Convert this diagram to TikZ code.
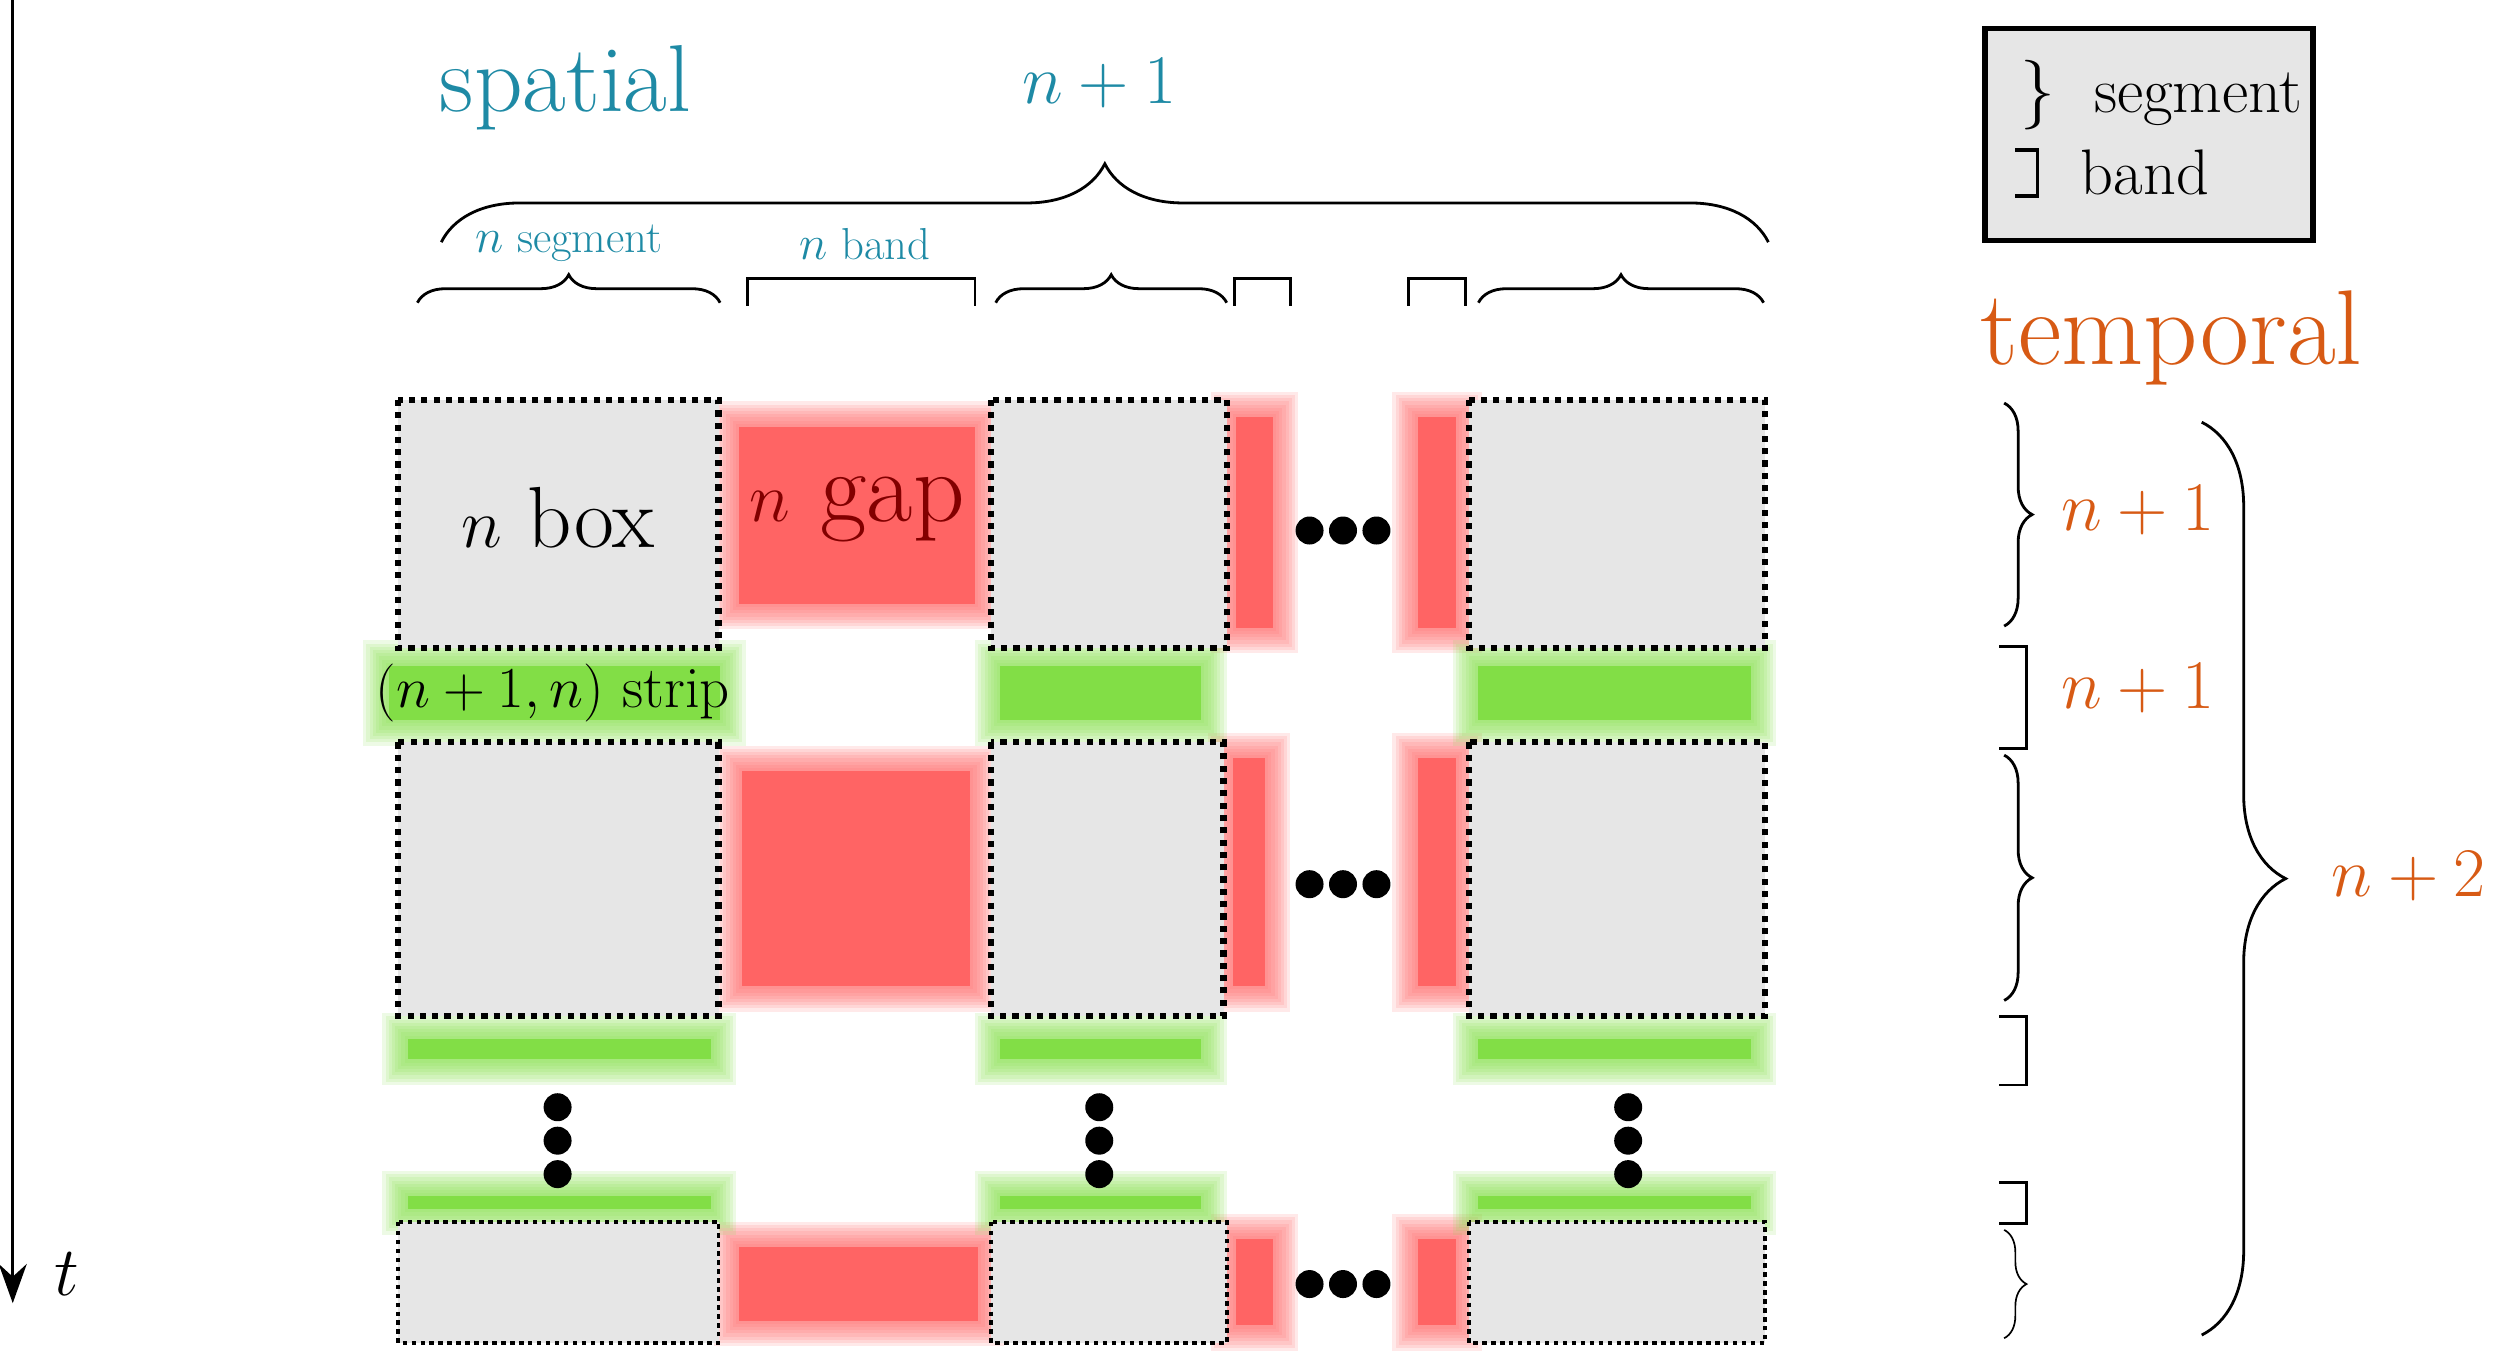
\documentclass[tikz,border=0pt]{standalone}
\usetikzlibrary{decorations.pathreplacing,arrows.meta}
\definecolor{teal1}{RGB}{30,138,165}
\definecolor{org}{RGB}{215,90,20}
\definecolor{redg}{RGB}{255,100,100}
\definecolor{grn}{RGB}{130,222,70}
\definecolor{boxg}{RGB}{230,230,230}
\definecolor{dred}{RGB}{130,0,0}
\newcommand{\fs}[1]{\fontsize{#1}{#1}\selectfont}
\newcommand{\blurr}[5]{%
 \foreach \d in {10,8,6,4,2,0,-2,-4}{\fill[#1,opacity=0.14] (#2-\d,#3-\d) rectangle (#4+\d,#5+\d);}
 \fill[#1] (#2+6,#3+6) rectangle (#4-6,#5-6);}
\tikzset{
 cell/.style={fill=boxg,draw=black,line width=2.2pt,dash pattern=on 2.2pt off 2.2pt},
 cellthin/.style={fill=boxg,draw=black,line width=1.4pt,dash pattern=on 1.6pt off 1.6pt},
 br/.style={decorate,decoration={brace,amplitude=#1},line width=1pt},
 sq/.style={line width=1pt},
 dot/.style={circle,fill=black,inner sep=0pt,minimum size=10pt}}
\begin{document}
\begin{tikzpicture}[x=0.02cm,y=-0.02cm]
\useasboundingbox (0,0) rectangle (1568,855);
% time axis
\coordinate (t0) at (8,0); \coordinate (t1) at (8,818);
\draw[line width=1pt,-{Stealth[length=14pt,width=10pt]}] (t0) -- (t1);
\node (tl) at (42,800) {\fs{38}$t$};
% headings
\node[text=teal1] (sp) at (355,55) {\fs{34}spatial};
\node[text=teal1] (np1) at (690,52) {\fs{24}$n+1$};
\draw[br=28pt] (277,152) -- (1110,152);
\node[text=teal1] (nseg) at (357,153) {\fs{16}$n$ segment};
\node[text=teal1] (nband) at (543,153) {\fs{16}$n$ band};
\draw[br=10pt] (262,190) -- (452,190);
\draw[sq] (469,192) -- (469,175) -- (612,175) -- (612,192);
\draw[br=10pt] (625,190) -- (770,190);
\draw[sq] (775,192) -- (775,175) -- (810,175) -- (810,192);
\draw[sq] (884,192) -- (884,175) -- (920,175) -- (920,192);
\draw[br=10pt] (928,190) -- (1107,190);
% red gaps
\blurr{redg}{458}{262}{618}{385}
\blurr{redg}{770}{256}{805}{400}
\blurr{redg}{884}{256}{920}{400}
\blurr{redg}{460}{478}{615}{625}
\blurr{redg}{768}{470}{800}{625}
\blurr{redg}{884}{470}{920}{625}
\blurr{redg}{458}{777}{620}{835}
\blurr{redg}{770}{772}{805}{838}
\blurr{redg}{884}{772}{920}{838}
% green strips
\blurr{grn}{238}{412}{458}{458}
\blurr{grn}{622}{412}{760}{458}
\blurr{grn}{922}{412}{1105}{458}
\blurr{grn}{250}{646}{452}{671}
\blurr{grn}{622}{646}{760}{671}
\blurr{grn}{922}{646}{1105}{671}
\blurr{grn}{250}{745}{452}{765}
\blurr{grn}{622}{745}{760}{765}
\blurr{grn}{922}{745}{1105}{765}
% boxes
\draw[cell] (250,251) rectangle (451,407);
\draw[cell] (622,251) rectangle (770,407);
\draw[cell] (922,251) rectangle (1108,407);
\draw[cell] (250,466) rectangle (451,638);
\draw[cell] (622,466) rectangle (768,638);
\draw[cell] (922,466) rectangle (1108,638);
\draw[cellthin] (250,767) rectangle (451,843);
\draw[cellthin] (622,767) rectangle (770,843);
\draw[cellthin] (922,767) rectangle (1108,843);
% texts
\node (nbox) at (350,325) {\fs{31}$n$ box};
\node[text=dred] (ngap) at (538,320) {\fs{36}$n$ gap};
\node (strip) at (347,435) {\fs{21}$(n+1,n)$ strip};
% dots
\foreach \x in {350,690,1022}{\foreach \y in {695,716,737}{\node[dot] at (\x,\y) {};}}
\foreach \y in {333,555,806}{\foreach \x in {822,843,864}{\node[dot] at (\x,\y) {};}}
% legend
\draw[fill=boxg,line width=2pt] (1246,18) rectangle (1452,151);
\node[anchor=west] (lseg) at (1262,60) {\fs{23}$\}$\ \ segment};
\draw[sq,line width=1.3pt] (1265,94) -- (1279,94) -- (1279,123) -- (1265,123);
\node[anchor=west] (lband) at (1300,108) {\fs{23}band};
% temporal
\node[text=org] (temp) at (1363,212) {\fs{38}temporal};
\draw[br=10pt] (1258,253) -- (1258,393);
\node[text=org] (t1l) at (1342,320) {\fs{26}$n+1$};
\draw[sq] (1255,406) -- (1272,406) -- (1272,470) -- (1255,470);
\node[text=org] (t2l) at (1342,432) {\fs{26}$n+1$};
\draw[br=10pt] (1258,474) -- (1258,628);
\draw[sq] (1255,638) -- (1272,638) -- (1272,681) -- (1255,681);
\draw[sq] (1255,742) -- (1272,742) -- (1272,768) -- (1255,768);
\draw[br=8pt,line width=0.6pt] (1258,772) -- (1258,840);
\draw[br=30pt] (1382,265) -- (1382,838);
\node[text=org] (t3l) at (1512,550) {\fs{26}$n+2$};
\end{tikzpicture}
\end{document}
